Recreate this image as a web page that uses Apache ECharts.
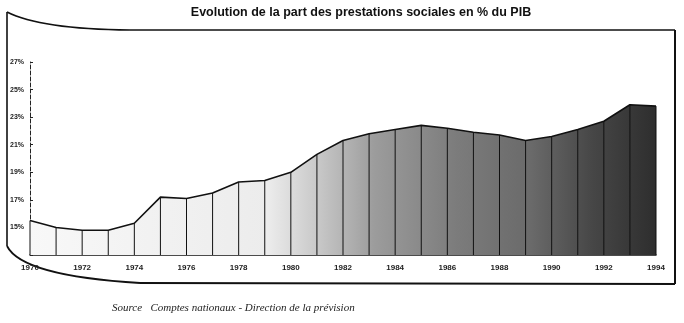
<!DOCTYPE html>
<html>
<head>
<meta charset="utf-8">
<script src="https://cdn.jsdelivr.net/npm/echarts@6/dist/echarts.min.js"></script>
<style>
html,body{margin:0;padding:0;background:#fff;}
#chart{width:684px;height:323px;}
</style>
</head>
<body>
<div id="chart"></div>
<script>
// ---- data ----
var years = [1970,1971,1972,1973,1974,1975,1976,1977,1978,1979,1980,1981,1982,1983,1984,1985,1986,1987,1988,1989,1990,1991,1992,1993,1994];
var shares = [15.5,15.0,14.8,14.8,15.3,17.2,17.1,17.5,18.3,18.4,19.0,20.3,21.3,21.8,22.1,22.4,22.2,21.9,21.7,21.3,21.6,22.1,22.7,23.9,23.8];
var yTicks = [15,17,19,21,23,25,27];
var xTicks = [1970,1972,1974,1976,1978,1980,1982,1984,1986,1988,1990,1992,1994];

var titleText = 'Evolution de la part des prestations sociales en % du PIB';
var sourceText = 'Source   Comptes nationaux - Direction de la pr\u00e9vision';

var points = years.map(function(y,i){ return [y, shares[i]]; });
var yMin = 13, yMax = 27;

var chart = echarts.init(document.getElementById('chart'), null, {renderer:'canvas'});
chart.setOption({
  animation:false,
  backgroundColor:'#fff',
  title:{
    text:titleText, left:356, top:1, textAlign:'center',
    textStyle:{fontFamily:'Liberation Sans', fontWeight:'bold', fontSize:12.5, color:'#111'}
  },
  grid:{left:30, right:28, top:62, bottom:68},
  xAxis:{
    type:'value', min:1970, max:1994, interval:2,
    axisLine:{show:true, lineStyle:{color:'#111', width:1.5}},
    axisTick:{show:false},
    splitLine:{show:false},
    axisLabel:{
      margin:9, fontSize:8, fontWeight:'bold', color:'#222', fontFamily:'Liberation Sans',
      formatter:function(v){ return xTicks.indexOf(v) >= 0 ? String(v) : ''; }
    }
  },
  yAxis:{
    type:'value', min:yMin, max:yMax, interval:2,
    axisLine:{show:true, lineStyle:{color:'#222', width:1, type:'dashed'}},
    axisTick:{show:true, length:3, inside:true, lineStyle:{color:'#222'}},
    splitLine:{show:false},
    axisLabel:{
      margin:6, fontSize:7, fontWeight:'bold', color:'#222', fontFamily:'Liberation Sans',
      formatter:function(v){ return yTicks.indexOf(v) >= 0 ? v + '%' : ''; }
    }
  },
  series:[
    {
      type:'line', data:points, symbol:'none', z:2,
      lineStyle:{color:'#111', width:1.6},
      areaStyle:{
        origin:'start', opacity:1,
        color:{type:'linear', x:0, y:0, x2:1, y2:0, colorStops:[
          {offset:0, color:'#f8f8f8'},
          {offset:0.38, color:'#ececec'},
          {offset:0.46, color:'#c8c8c8'},
          {offset:0.55, color:'#9c9c9c'},
          {offset:0.68, color:'#7c7c7c'},
          {offset:0.8, color:'#6a6a6a'},
          {offset:0.9, color:'#464646'},
          {offset:1, color:'#2e2e2e'}
        ]}
      }
    },
    {
      type:'custom', z:3, data:points,
      renderItem:function(params, api){
        var top = api.coord([api.value(0), api.value(1)]);
        var bot = api.coord([api.value(0), yMin]);
        return {type:'line', shape:{x1:top[0], y1:top[1], x2:bot[0], y2:bot[1]},
                style:{stroke:'#111', lineWidth:1}};
      }
    }
  ],
  graphic:[
    {type:'bezierCurve', shape:{x1:7, y1:12, cpx1:40, cpy1:29, x2:130, y2:30}, style:{fill:null, stroke:'#111', lineWidth:1.6}},
    {type:'line', shape:{x1:130, y1:30, x2:675, y2:30}, style:{stroke:'#111', lineWidth:1.6}},
    {type:'line', shape:{x1:7, y1:12, x2:7, y2:246}, style:{stroke:'#111', lineWidth:1.6}},
    {type:'bezierCurve', shape:{x1:7, y1:246, cpx1:22, cpy1:276, x2:140, y2:283}, style:{fill:null, stroke:'#111', lineWidth:1.8}},
    {type:'line', shape:{x1:140, y1:283, x2:675, y2:284}, style:{stroke:'#111', lineWidth:1.8}},
    {type:'line', shape:{x1:675, y1:30, x2:675, y2:284}, style:{stroke:'#111', lineWidth:2}},
    {type:'text', left:112, top:303, style:{text:sourceText, font:'italic 11px "Liberation Serif"', fill:'#222'}}
  ]
});
</script>
</body>
</html>
